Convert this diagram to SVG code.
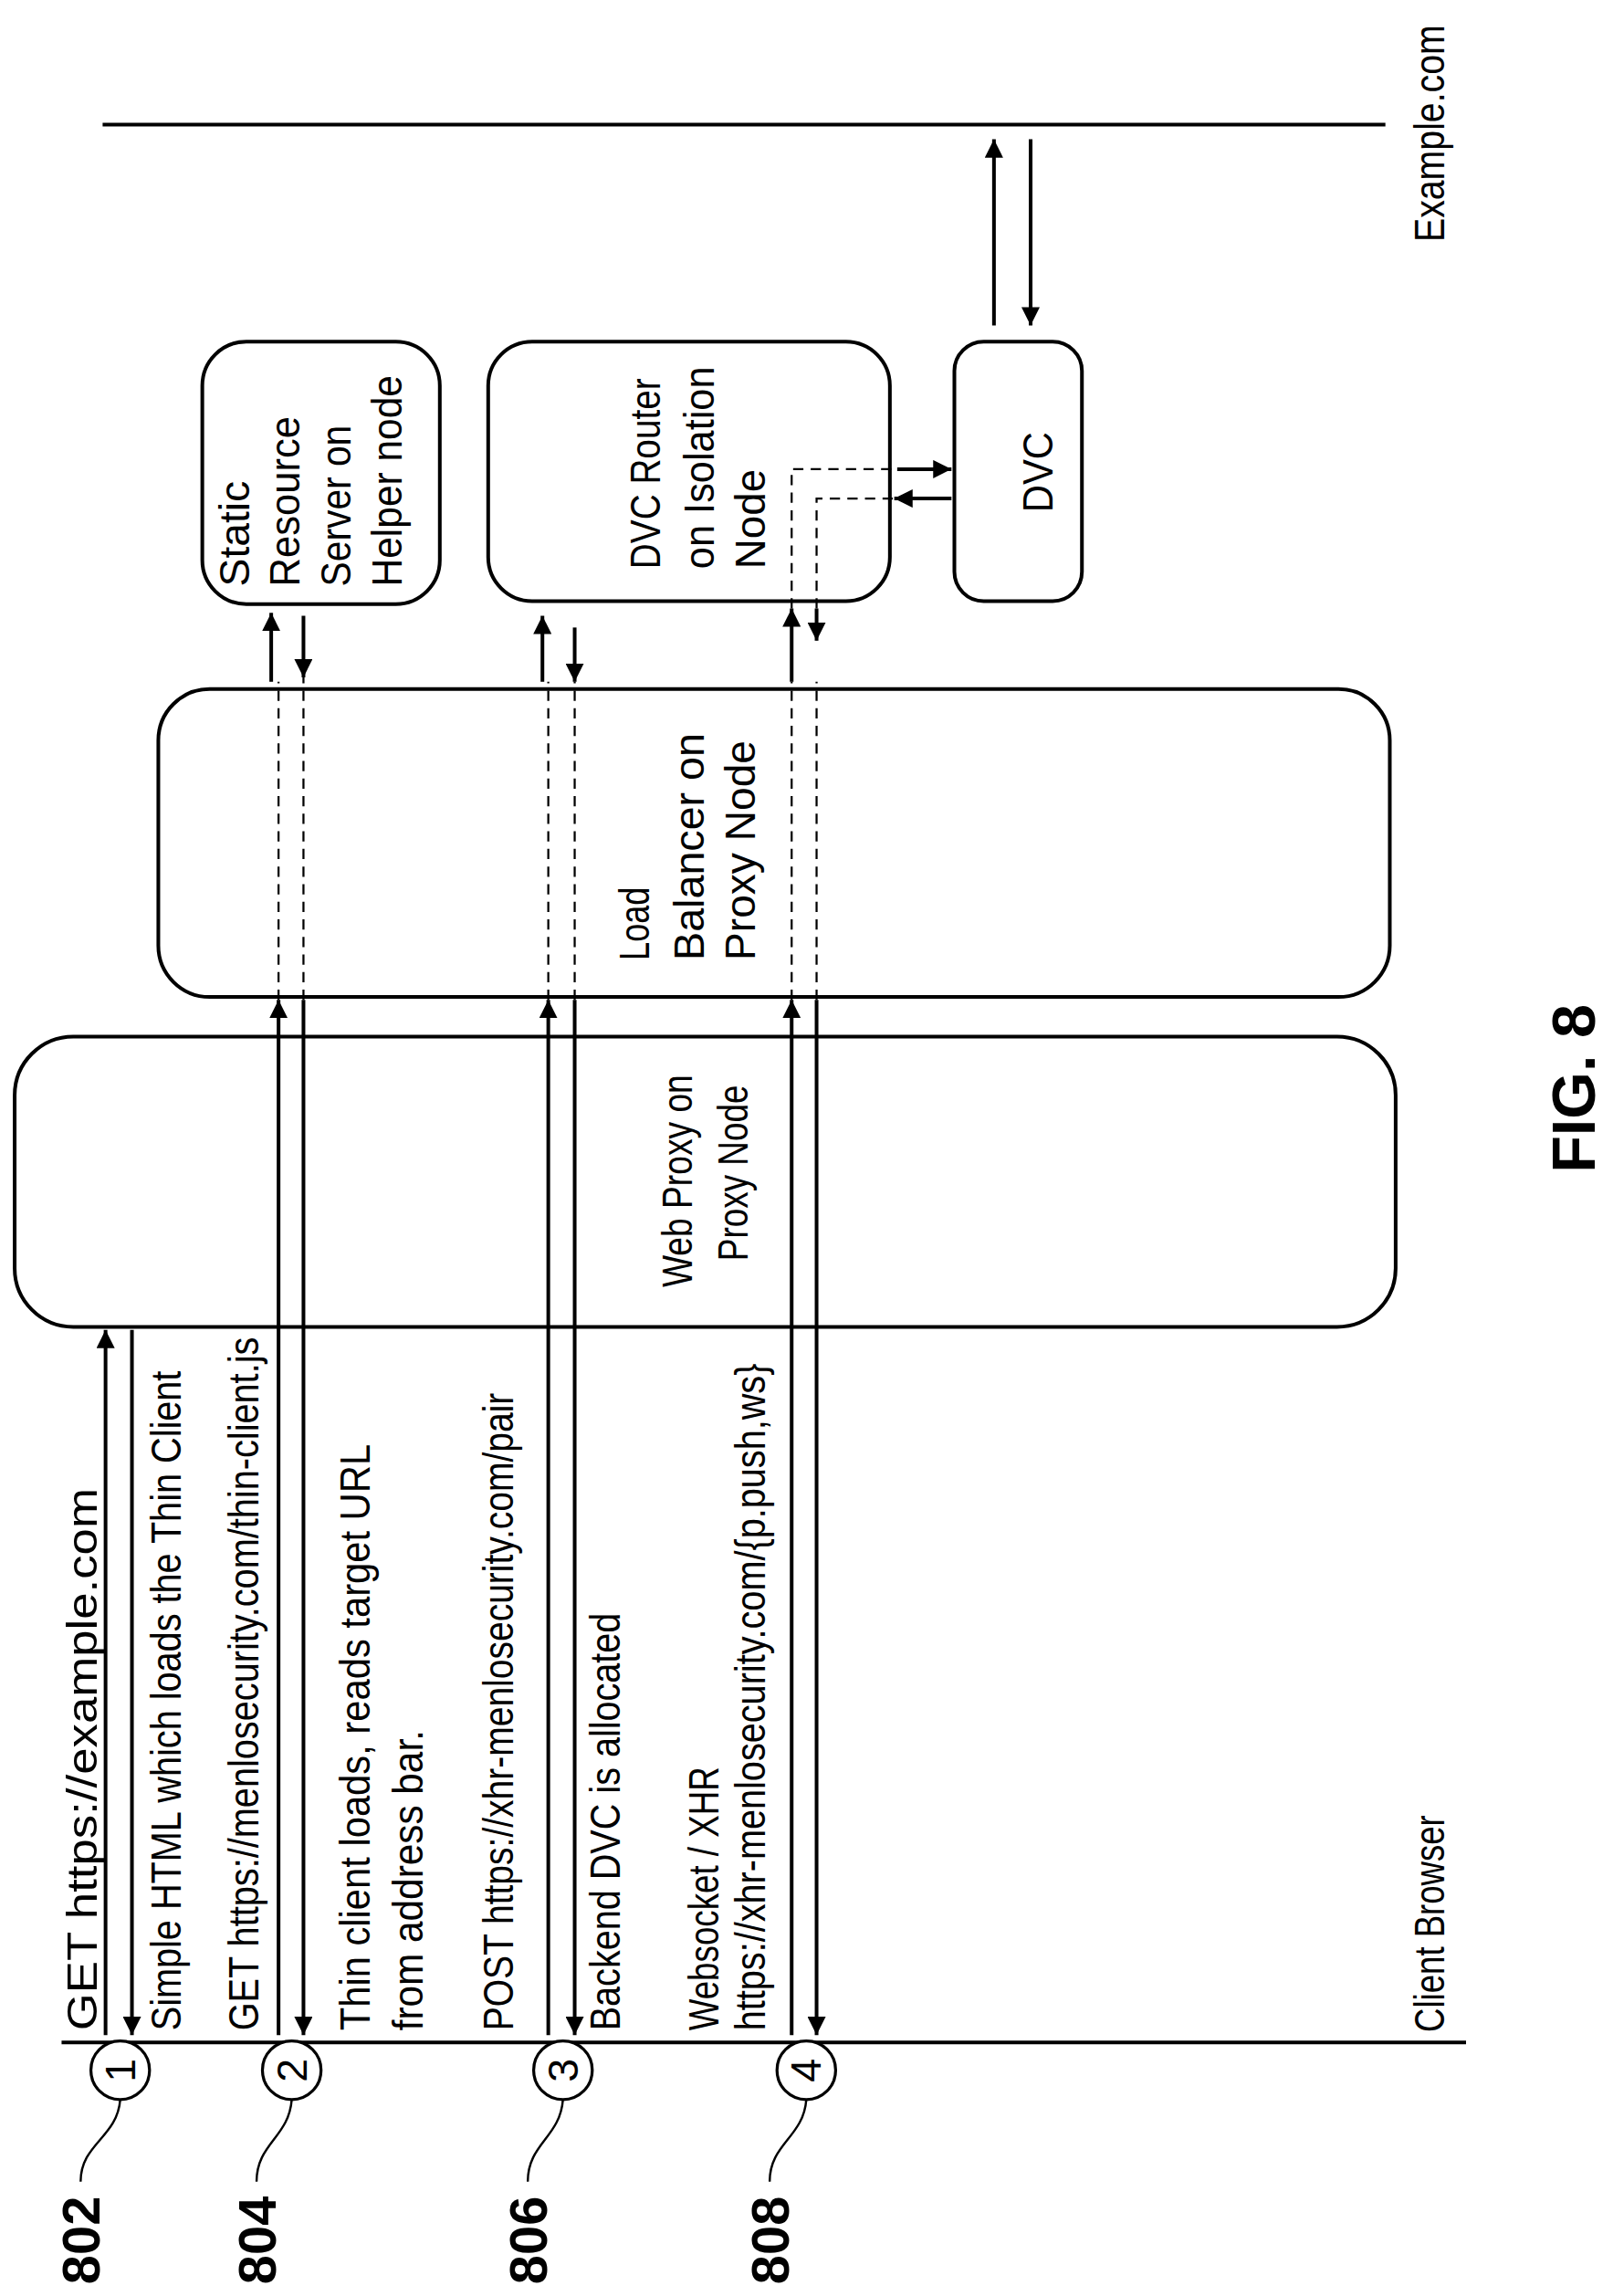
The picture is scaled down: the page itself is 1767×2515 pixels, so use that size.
<svg xmlns="http://www.w3.org/2000/svg" width="1767" height="2515" viewBox="0 0 1767 2515">
<style>
.ln{stroke:#000;stroke-width:2.5;fill:none}
.ds{stroke:#000;stroke-width:1.4;fill:none;stroke-dasharray:7 5}
.bx{stroke:#000;stroke-width:2.5;fill:#fff}
.t{font-family:"Liberation Sans",Arial,sans-serif;font-size:29px;fill:#000}
.b{font-family:"Liberation Sans",Arial,sans-serif;font-size:36px;font-weight:bold;fill:#000}
.c{stroke:#000;stroke-width:2;fill:#fff}
</style>
<defs>
<marker id="ah" viewBox="0 0 10 10" refX="10" refY="5" markerWidth="5" markerHeight="5" orient="auto-start-reverse" markerUnits="strokeWidth"><path d="M0,0 L10,5 L0,10 z" fill="#000"/></marker>
</defs>
<rect width="1767" height="2515" fill="#fff"/>
<g transform="scale(1.606)">
<g id="lifelines">
<line class="ln" x1="42" y1="1393" x2="1000" y2="1393"/>
<line class="ln" x1="70" y1="85" x2="945" y2="85"/>
<text class="t" transform="translate(985,165) rotate(-90)" textLength="148" lengthAdjust="spacingAndGlyphs">Example.com</text>
<text class="t" transform="translate(985,1386) rotate(-90)" textLength="148" lengthAdjust="spacingAndGlyphs">Client Browser</text>
</g>
<g id="webproxy">
<rect class="bx" x="10" y="707" width="942" height="198" rx="40"/>
<text class="t" transform="translate(472,878) rotate(-90)" textLength="145" lengthAdjust="spacingAndGlyphs">Web Proxy on</text>
<text class="t" transform="translate(510,860) rotate(-90)" textLength="120" lengthAdjust="spacingAndGlyphs">Proxy Node</text>
</g>
<g id="loadbalancer">
<rect class="bx" x="108" y="470" width="840" height="210" rx="35"/>
<text class="t" transform="translate(443,655) rotate(-90)" textLength="50" lengthAdjust="spacingAndGlyphs">Load</text>
<text class="t" transform="translate(480,655) rotate(-90)" textLength="155" lengthAdjust="spacingAndGlyphs">Balancer on</text>
<text class="t" transform="translate(515,655) rotate(-90)" textLength="150" lengthAdjust="spacingAndGlyphs">Proxy Node</text>
</g>
<g id="static">
<rect class="bx" x="138" y="233" width="162" height="179" rx="30"/>
<text class="t" transform="translate(170,400) rotate(-90)" textLength="72" lengthAdjust="spacingAndGlyphs">Static</text>
<text class="t" transform="translate(204,400) rotate(-90)" textLength="116" lengthAdjust="spacingAndGlyphs">Resource</text>
<text class="t" transform="translate(239,400) rotate(-90)" textLength="110" lengthAdjust="spacingAndGlyphs">Server on</text>
<text class="t" transform="translate(274,400) rotate(-90)" textLength="144" lengthAdjust="spacingAndGlyphs">Helper node</text>
</g>
<g id="dvcrouter">
<rect class="bx" x="333" y="233" width="274" height="177" rx="30"/>
<text class="t" transform="translate(450,388) rotate(-90)" textLength="130" lengthAdjust="spacingAndGlyphs">DVC Router</text>
<text class="t" transform="translate(487,388) rotate(-90)" textLength="138" lengthAdjust="spacingAndGlyphs">on Isolation</text>
<text class="t" transform="translate(522,388) rotate(-90)" textLength="68" lengthAdjust="spacingAndGlyphs">Node</text>
</g>
<g id="dvc">
<rect class="bx" x="651" y="233" width="87" height="177" rx="20"/>
<text class="t" transform="translate(718,322) rotate(-90)" text-anchor="middle" textLength="55" lengthAdjust="spacingAndGlyphs">DVC</text>
</g>
<g id="connectors">
<line class="ln" x1="72" y1="1388" x2="72" y2="907" marker-end="url(#ah)"/>
<line class="ln" x1="90" y1="907" x2="90" y2="1388" marker-end="url(#ah)"/>
<line class="ln" x1="190" y1="1388" x2="190" y2="682" marker-end="url(#ah)"/>
<line class="ln" x1="207" y1="682" x2="207" y2="1388" marker-end="url(#ah)"/>
<line class="ds" x1="190" y1="682" x2="190" y2="465"/>
<line class="ds" x1="207" y1="682" x2="207" y2="462"/>
<line class="ln" x1="185" y1="465" x2="185" y2="418" marker-end="url(#ah)"/>
<line class="ln" x1="207" y1="420" x2="207" y2="462" marker-end="url(#ah)"/>
<line class="ln" x1="374" y1="1388" x2="374" y2="682" marker-end="url(#ah)"/>
<line class="ln" x1="392" y1="682" x2="392" y2="1388" marker-end="url(#ah)"/>
<line class="ds" x1="374" y1="682" x2="374" y2="465"/>
<line class="ds" x1="392" y1="682" x2="392" y2="465"/>
<line class="ln" x1="370" y1="465" x2="370" y2="420" marker-end="url(#ah)"/>
<line class="ln" x1="392" y1="428" x2="392" y2="465" marker-end="url(#ah)"/>
<line class="ln" x1="540" y1="1388" x2="540" y2="682" marker-end="url(#ah)"/>
<line class="ln" x1="557" y1="682" x2="557" y2="1388" marker-end="url(#ah)"/>
<line class="ds" x1="540" y1="682" x2="540" y2="465"/>
<line class="ds" x1="557" y1="682" x2="557" y2="465"/>
<line class="ln" x1="540" y1="465" x2="540" y2="415" marker-end="url(#ah)"/>
<line class="ln" x1="557" y1="415" x2="557" y2="437" marker-end="url(#ah)"/>
<path class="ds" d="M540,415 V320 H612"/>
<path class="ds" d="M557,415 V340 H612"/>
<line class="ln" x1="612" y1="320" x2="649" y2="320" marker-end="url(#ah)"/>
<line class="ln" x1="649" y1="340" x2="610" y2="340" marker-end="url(#ah)"/>
<line class="ln" x1="678" y1="222" x2="678" y2="95" marker-end="url(#ah)"/>
<line class="ln" x1="703" y1="95" x2="703" y2="222" marker-end="url(#ah)"/>
</g>
<g id="step-labels">
<text class="t" transform="translate(66,1385) rotate(-90)" textLength="370" lengthAdjust="spacingAndGlyphs">GET https://example.com</text>
<text class="t" transform="translate(123,1385) rotate(-90)" textLength="450" lengthAdjust="spacingAndGlyphs">Simple HTML which loads the Thin Client</text>
<text class="t" transform="translate(176,1385) rotate(-90)" textLength="473" lengthAdjust="spacingAndGlyphs">GET https://menlosecurity.com/thin-client.js</text>
<text class="t" transform="translate(252,1385) rotate(-90)" textLength="400" lengthAdjust="spacingAndGlyphs">Thin client loads, reads target URL</text>
<text class="t" transform="translate(288,1385) rotate(-90)" textLength="205" lengthAdjust="spacingAndGlyphs">from address bar.</text>
<text class="t" transform="translate(350,1385) rotate(-90)" textLength="435" lengthAdjust="spacingAndGlyphs">POST https://xhr-menlosecurity.com/pair</text>
<text class="t" transform="translate(423,1385) rotate(-90)" textLength="285" lengthAdjust="spacingAndGlyphs">Backend DVC is allocated</text>
<text class="t" transform="translate(490,1385) rotate(-90)" textLength="180" lengthAdjust="spacingAndGlyphs">Websocket / XHR</text>
<text class="t" transform="translate(522,1385) rotate(-90)" textLength="455" lengthAdjust="spacingAndGlyphs">https://xhr-menlosecurity.com/{p.push,ws}</text>
</g>
<g id="ref-802">
<circle class="c" cx="82" cy="1412" r="20"/>
<text class="t" transform="translate(92,1412) rotate(-90)" text-anchor="middle">1</text>
<path class="ln" style="stroke-width:1.5" d="M55,1488 C55,1462 80,1458 82,1432"/>
<text class="b" transform="translate(68,1558) rotate(-90)">802</text>
</g>
<g id="ref-804">
<circle class="c" cx="199" cy="1412" r="20"/>
<text class="t" transform="translate(209,1412) rotate(-90)" text-anchor="middle">2</text>
<path class="ln" style="stroke-width:1.5" d="M175,1488 C175,1462 197,1458 199,1432"/>
<text class="b" transform="translate(188,1558) rotate(-90)">804</text>
</g>
<g id="ref-806">
<circle class="c" cx="384" cy="1412" r="20"/>
<text class="t" transform="translate(394,1412) rotate(-90)" text-anchor="middle">3</text>
<path class="ln" style="stroke-width:1.5" d="M360,1488 C360,1462 382,1458 384,1432"/>
<text class="b" transform="translate(373,1558) rotate(-90)">806</text>
</g>
<g id="ref-808">
<circle class="c" cx="550" cy="1412" r="20"/>
<text class="t" transform="translate(560,1412) rotate(-90)" text-anchor="middle">4</text>
<path class="ln" style="stroke-width:1.5" d="M525,1488 C525,1462 548,1458 550,1432"/>
<text class="b" transform="translate(538,1558) rotate(-90)">808</text>
</g>
<text class="b" transform="translate(1088,800) rotate(-90)" style="font-size:42px" textLength="115" lengthAdjust="spacingAndGlyphs">FIG. 8</text>
</g>
</svg>
